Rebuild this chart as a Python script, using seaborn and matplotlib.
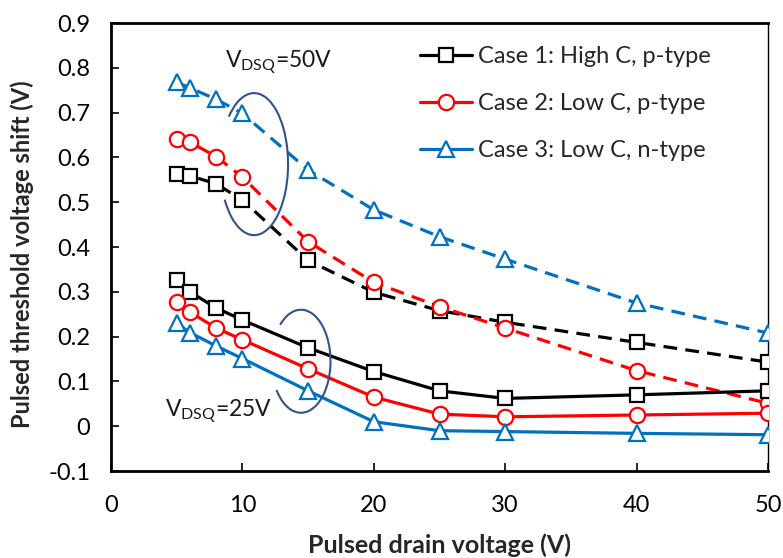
import matplotlib
matplotlib.use('Agg')
import matplotlib.pyplot as plt
import seaborn as sns
import pandas as pd
import numpy as np
from matplotlib.patches import Arc
from matplotlib.lines import Line2D

# ---- data ----
x_vals = [5, 6, 8, 10, 15, 20, 25, 30, 40, 50]
case1_25 = [0.327, 0.300, 0.264, 0.237, 0.175, 0.122, 0.079, 0.062, 0.070, 0.079]
case2_25 = [0.277, 0.255, 0.219, 0.193, 0.128, 0.065, 0.027, 0.021, 0.025, 0.029]
case3_25 = [0.230, 0.209, 0.179, 0.151, 0.079, 0.010, -0.010, -0.012, -0.016, -0.019]
case1_50 = [0.563, 0.559, 0.541, 0.505, 0.370, 0.299, 0.258, 0.232, 0.187, 0.143]
case2_50 = [0.641, 0.634, 0.602, 0.556, 0.412, 0.321, 0.267, 0.219, 0.124, 0.051]
case3_50 = [0.768, 0.755, 0.730, 0.698, 0.572, 0.483, 0.423, 0.373, 0.275, 0.208]
case_labels = ['Case 1: High C, p-type', 'Case 2: Low C, p-type', 'Case 3: Low C, n-type']
x_ticks = [0, 10, 20, 30, 40, 50]
y_ticks = [-0.1, 0, 0.1, 0.2, 0.3, 0.4, 0.5, 0.6, 0.7, 0.8, 0.9]
y_tick_labels = ['-0.1', '0', '0.1', '0.2', '0.3', '0.4', '0.5', '0.6', '0.7', '0.8', '0.9']
x_label = 'Pulsed drain voltage (V)'
y_label = 'Pulsed threshold voltage shift (V)'

sns.set_style('ticks')
plt.rcParams['font.family'] = ['Lato', 'DejaVu Sans']
plt.rcParams['mathtext.fontset'] = 'custom'
plt.rcParams['mathtext.rm'] = 'Lato'

colors = ['#000000', '#FF0000', '#0070C0']
markers = ['s', 'o', '^']
msizes = [9.5, 11, 12]
series25 = [case1_25, case2_25, case3_25]
series50 = [case1_50, case2_50, case3_50]

fig = plt.figure(figsize=(7.83, 5.58), dpi=100)
ax = fig.add_axes([111/783, 1 - 471/558, 657/783, 448/558])

dash = (0, (4.3, 2.6))
for i in range(3):
    df50 = pd.DataFrame({'x': x_vals, 'y': series50[i]})
    sns.lineplot(data=df50, x='x', y='y', ax=ax, color=colors[i], linestyle=dash,
                 linewidth=2.3, marker=markers[i], markersize=msizes[i],
                 markerfacecolor='white', markeredgecolor=colors[i],
                 markeredgewidth=1.6, zorder=3)
for i in range(3):
    df25 = pd.DataFrame({'x': x_vals, 'y': series25[i]})
    sns.lineplot(data=df25, x='x', y='y', ax=ax, color=colors[i], linestyle='-',
                 linewidth=2.3, marker=markers[i], markersize=msizes[i],
                 markerfacecolor='white', markeredgecolor=colors[i],
                 markeredgewidth=1.6, zorder=3)

ax.set_xlim(0, 50)
ax.set_ylim(-0.1, 0.9)
ax.set_xticks(x_ticks)
ax.set_xticklabels([str(t) for t in x_ticks])
ax.set_yticks(y_ticks)
ax.set_yticklabels(y_tick_labels)
ax.tick_params(axis='both', direction='in', length=6, width=1.2, labelsize=17,
               colors='black', labelcolor='#000000')
ax.tick_params(axis='x', pad=17)
ax.tick_params(axis='y', pad=15)
for side in ['left', 'bottom', 'top', 'right']:
    ax.spines[side].set_visible(True)
    ax.spines[side].set_color('black')
ax.spines['left'].set_linewidth(2.0)
ax.spines['bottom'].set_linewidth(2.0)
ax.spines['top'].set_linewidth(2.0)
ax.spines['right'].set_linewidth(1.0)
ax.set_xlabel(x_label, fontsize=18, fontweight='bold', va='center')
ax.set_ylabel(y_label, fontsize=17, fontweight='bold', va='center')
ax.xaxis.set_label_coords(0.5, (471 - 545) / 448)
ax.yaxis.set_label_coords((22 - 111) / 657, (471 - 254) / 448)


# ellipse callouts (parametric angles converted to matplotlib's data-space angles)
def arc_angle(t_deg, w, h):
    t = np.deg2rad(t_deg)
    return np.rad2deg(np.arctan2(np.sin(t) * h / w, np.cos(t)))


arc_color = '#34508F'
for (cx, cy, w, h, t1, t2) in [(10.89, 0.585, 5.17, 0.317, -150, 138),
                               (14.46, 0.145, 4.49, 0.23, -146, 135)]:
    ax.add_patch(Arc((cx, cy), w, h, theta1=arc_angle(t1, w, h),
                     theta2=arc_angle(t2, w, h), color=arc_color,
                     linewidth=1.5, zorder=4))

ax.text(8.68, 0.80, r'V$_{\mathregular{DSQ}}$=50V', fontsize=16.5, ha='left',
        va='baseline', color='#1a1a1a')
ax.text(4.11, 0.021, r'V$_{\mathregular{DSQ}}$=25V', fontsize=16.5, ha='left',
        va='baseline', color='#1a1a1a')

handles = [Line2D([0], [0], color=colors[i], linewidth=2.3, marker=markers[i],
                  markersize=msizes[i], markerfacecolor='white',
                  markeredgecolor=colors[i], markeredgewidth=1.6) for i in range(3)]
ax.legend(handles, case_labels, loc='upper left', bbox_to_anchor=(0.47, 0.948),
          frameon=False, fontsize=17, handlelength=2.2, handletextpad=0.25,
          labelspacing=1.1, borderpad=0, borderaxespad=0)

fig.savefig('out.png', dpi=100)
